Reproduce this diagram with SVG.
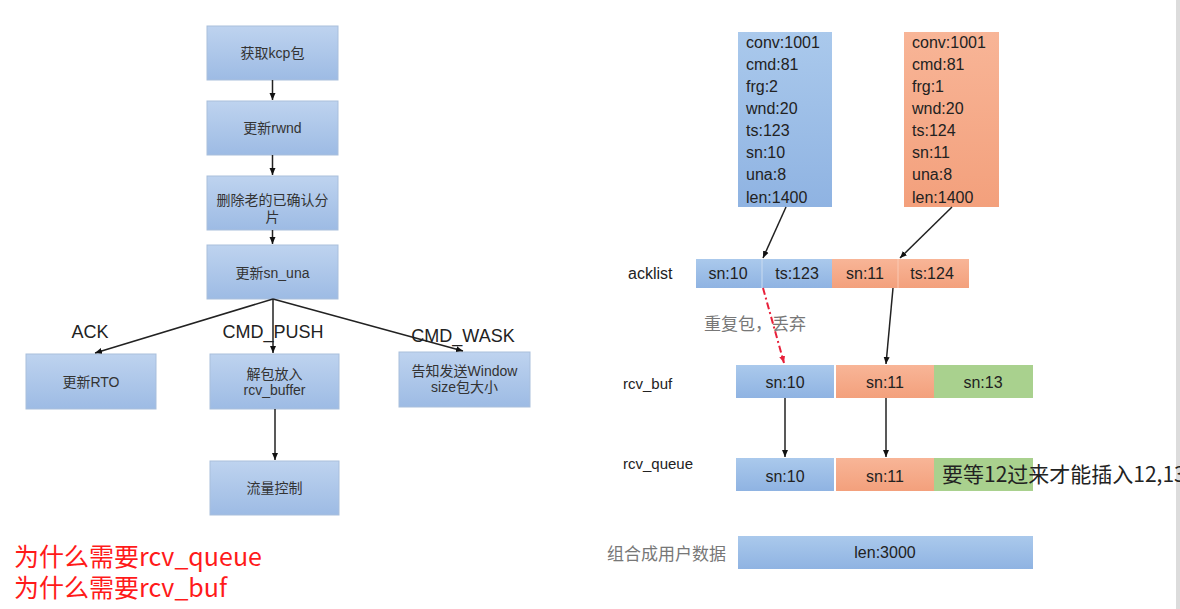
<svg xmlns="http://www.w3.org/2000/svg" width="1180" height="609" viewBox="0 0 1180 609">
<style>
.fb{fill:url(#gb);stroke:#a9bfdc;stroke-width:1}
.ft{font-family:"Liberation Sans","Noto Sans CJK SC",sans-serif;font-size:14px;fill:#333;text-anchor:middle}
.lb{font-family:"Liberation Sans","Noto Sans CJK SC",sans-serif;font-size:18px;fill:#222;text-anchor:middle}
.pk{font-family:"Liberation Sans",sans-serif;font-size:16px;fill:#222}
.pc{font-family:"Liberation Sans",sans-serif;font-size:16px;fill:#222;text-anchor:middle}
.rl{font-family:"Liberation Sans",sans-serif;font-size:15px;fill:#222}
.gy{font-family:"Noto Sans CJK SC",sans-serif;font-size:17px;fill:#777}
.red{font-family:"Noto Sans CJK SC",sans-serif;font-size:25px;fill:#ff1a1a}
.blue{fill:url(#gb2)}
.org{fill:url(#go)}
.grn{fill:#a9d18e}
.ln{stroke:#222;stroke-width:1.5;fill:none}
</style>
<defs>
<linearGradient id="gb" x1="0" y1="0" x2="0" y2="1"><stop offset="0" stop-color="#bed3ef"/><stop offset="1" stop-color="#9dbbe4"/></linearGradient>
<linearGradient id="gb2" x1="0" y1="0" x2="0" y2="1"><stop offset="0" stop-color="#aac9ec"/><stop offset="1" stop-color="#8fb3e2"/></linearGradient>
<linearGradient id="go" x1="0" y1="0" x2="0" y2="1"><stop offset="0" stop-color="#f8b597"/><stop offset="1" stop-color="#f3a07c"/></linearGradient>
<marker id="ah" markerWidth="8" markerHeight="8" refX="7" refY="4" orient="auto" markerUnits="userSpaceOnUse"><path d="M0,1 L7,4 L0,7 Z" fill="#111"/></marker>
<marker id="ahr" markerWidth="8" markerHeight="8" refX="7" refY="4" orient="auto" markerUnits="userSpaceOnUse"><path d="M0,1 L7,4 L0,7 Z" fill="#e8203a"/></marker>
</defs>
<rect width="1180" height="609" fill="#ffffff"/>
<rect x="1176" y="0" width="4" height="609" fill="#dcdcdc"/>

<g id="n-get"><rect class="fb" x="207" y="26" width="131" height="54"/><text class="ft" x="272.5" y="58">获取kcp包</text></g>
<g id="n-rwnd"><rect class="fb" x="207" y="101" width="131" height="54"/><text class="ft" x="272.5" y="133">更新rwnd</text></g>
<g id="n-del"><rect class="fb" x="207" y="176" width="131" height="54"/><text class="ft" x="272.5" y="205">删除老的已确认分</text><text class="ft" x="272.5" y="222">片</text></g>
<g id="n-una"><rect class="fb" x="207" y="245" width="131" height="54"/><text class="ft" x="272.5" y="278">更新sn_una</text></g>
<g id="n-rto"><rect class="fb" x="26" y="354" width="130" height="55"/><text class="ft" x="91" y="387">更新RTO</text></g>
<g id="n-push"><rect class="fb" x="210" y="354" width="129" height="55"/><text class="ft" x="274.5" y="379">解包放入</text><text class="ft" x="274.5" y="395">rcv_buffer</text></g>
<g id="n-wask"><rect class="fb" x="399" y="352" width="131" height="55"/><text class="ft" x="464.5" y="376">告知发送Window</text><text class="ft" x="464.5" y="392">size包大小</text></g>
<g id="n-flow"><rect class="fb" x="210" y="461" width="129" height="54"/><text class="ft" x="274.5" y="493">流量控制</text></g>

<g id="lbl-ack"><text class="lb" x="90" y="338">ACK</text></g>
<g id="lbl-push"><text class="lb" x="273" y="338">CMD_PUSH</text></g>
<g id="lbl-wask"><text class="lb" x="463" y="342">CMD_WASK</text></g>

<g id="pkt1"><rect class="blue" x="738" y="32" width="94" height="175"/>
<text class="pk" x="746" y="48">conv:1001</text><text class="pk" x="746" y="70">cmd:81</text><text class="pk" x="746" y="92">frg:2</text><text class="pk" x="746" y="114">wnd:20</text><text class="pk" x="746" y="136">ts:123</text><text class="pk" x="746" y="158">sn:10</text><text class="pk" x="746" y="180">una:8</text><text class="pk" x="746" y="203">len:1400</text></g>
<g id="pkt2"><rect class="org" x="904" y="32" width="95" height="175"/>
<text class="pk" x="912" y="48">conv:1001</text><text class="pk" x="912" y="70">cmd:81</text><text class="pk" x="912" y="92">frg:1</text><text class="pk" x="912" y="114">wnd:20</text><text class="pk" x="912" y="136">ts:124</text><text class="pk" x="912" y="158">sn:11</text><text class="pk" x="912" y="180">una:8</text><text class="pk" x="912" y="203">len:1400</text></g>

<g id="acklist"><text class="rl" x="628" y="279" style="font-size:16px">acklist</text>
<rect class="blue" x="696" y="259" width="136" height="29"/><rect class="org" x="832" y="259" width="137" height="29"/>
<line x1="762" y1="259" x2="762" y2="288" stroke="#c9dbf0" stroke-width="1"/><line x1="898" y1="259" x2="898" y2="288" stroke="#fac9b3" stroke-width="1"/>
<text class="pc" x="728" y="279">sn:10</text><text class="pc" x="797" y="279">ts:123</text><text class="pc" x="865" y="279">sn:11</text><text class="pc" x="932" y="279">ts:124</text></g>

<g id="rcvbuf"><text class="rl" x="623" y="389">rcv_buf</text>
<rect class="blue" x="736" y="365" width="98" height="33"/><rect class="org" x="836" y="365" width="98" height="33"/><rect class="grn" x="934" y="365" width="99" height="33"/>
<text class="pc" x="785" y="388">sn:10</text><text class="pc" x="885" y="388">sn:11</text><text class="pc" x="983" y="388">sn:13</text></g>

<g id="rcvqueue"><text class="rl" x="623" y="469">rcv_queue</text>
<rect class="blue" x="736" y="458" width="98" height="33"/><rect class="org" x="836" y="458" width="98" height="33"/><rect class="grn" x="934" y="458" width="99" height="33"/>
<text class="pc" x="785" y="482">sn:10</text><text class="pc" x="885" y="482">sn:11</text>
<text x="942" y="482" style="font-family:'Noto Sans CJK SC',sans-serif;font-size:21px;fill:#222">要等12过来才能插入12,13</text></g>

<g id="userdata"><text class="gy" x="607" y="560">组合成用户数据</text>
<rect class="blue" x="738" y="536" width="295" height="33"/><text class="pc" x="885" y="558">len:3000</text></g>

<g id="dup-label"><text class="gy" x="704" y="330">重复包，丢弃</text></g>

<g id="connectors">
<line class="ln" x1="272.5" y1="80" x2="272.5" y2="100" marker-end="url(#ah)"/>
<line class="ln" x1="272.5" y1="155" x2="272.5" y2="175" marker-end="url(#ah)"/>
<line class="ln" x1="272.5" y1="230" x2="272.5" y2="244" marker-end="url(#ah)"/>
<line class="ln" x1="273" y1="299" x2="95" y2="353" marker-end="url(#ah)"/>
<line class="ln" x1="273" y1="299" x2="273" y2="353" marker-end="url(#ah)"/>
<line class="ln" x1="273" y1="299" x2="463" y2="351" marker-end="url(#ah)"/>
<line class="ln" x1="275" y1="409" x2="275" y2="460" marker-end="url(#ah)"/>
<line class="ln" x1="786" y1="207" x2="763" y2="258" marker-end="url(#ah)"/>
<line class="ln" x1="952" y1="207" x2="900" y2="258" marker-end="url(#ah)"/>
<line x1="763" y1="288" x2="784" y2="363" stroke="#e8203a" stroke-width="2" stroke-dasharray="7 3 2 3" marker-end="url(#ahr)"/>
<line class="ln" x1="893" y1="288" x2="886" y2="364" marker-end="url(#ah)"/>
<line class="ln" x1="785" y1="398" x2="785" y2="457" marker-end="url(#ah)"/>
<line class="ln" x1="886" y1="398" x2="886" y2="457" marker-end="url(#ah)"/>
</g>

<g id="notes"><text class="red" x="14" y="566">为什么需要rcv_queue</text><text class="red" x="14" y="597">为什么需要rcv_buf</text></g>
</svg>
